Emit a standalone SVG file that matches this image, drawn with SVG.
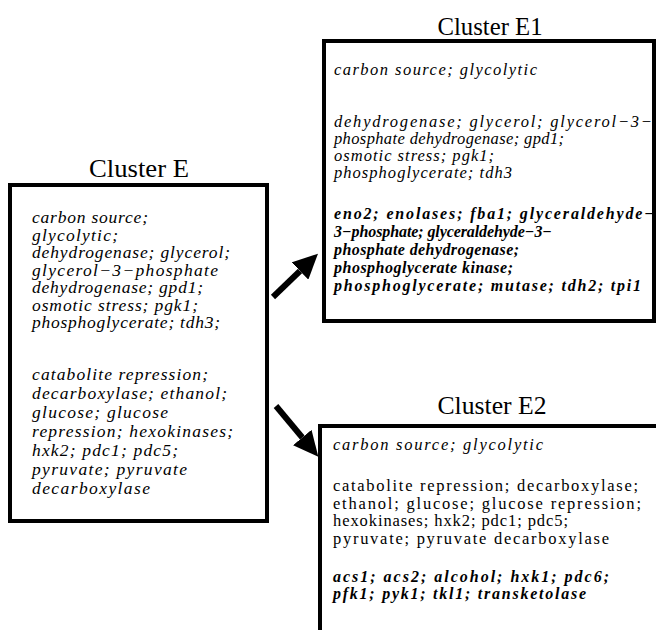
<svg xmlns="http://www.w3.org/2000/svg" width="656" height="630" viewBox="0 0 656 630">
<defs>
<style>
.box{fill:#fff;stroke:#000;stroke-width:4}
.title{font-family:"Liberation Serif","Times New Roman",serif;font-size:25px;fill:#000;text-anchor:middle}
.it{font-family:"Liberation Serif","Times New Roman",serif;font-size:16.5px;font-style:italic;fill:#000}
.itE{font-family:"Liberation Serif","Times New Roman",serif;font-size:17.5px;font-style:italic;fill:#000}
.rg{font-family:"Liberation Serif","Times New Roman",serif;font-size:16.5px;fill:#000}
.bi{font-family:"Liberation Serif","Times New Roman",serif;font-size:16px;font-style:italic;font-weight:bold;fill:#000}
.conn{stroke:#000;stroke-width:6;fill:none}
</style>
<marker id="ah" markerUnits="userSpaceOnUse" viewBox="0 0 25 24" markerWidth="25" markerHeight="24" refX="0" refY="12" orient="auto">
<path d="M0,0 L25,12 L0,24 z" fill="#000"/>
</marker>
</defs>
<rect width="656" height="630" fill="#fff"/>

<g id="clusterE">
<text class="title" x="139" y="177" textLength="100" lengthAdjust="spacingAndGlyphs">Cluster E</text>
<rect class="box" x="10" y="185" width="257" height="336"/>
<text class="itE" x="32" y="223" textLength="116" lengthAdjust="spacing">carbon source;</text>
<text class="itE" x="32" y="240.5" textLength="86" lengthAdjust="spacing">glycolytic;</text>
<text class="itE" x="32" y="258" textLength="198" lengthAdjust="spacing">dehydrogenase; glycerol;</text>
<text class="itE" x="32" y="275.5" textLength="186" lengthAdjust="spacing">glycerol−3−phosphate</text>
<text class="itE" x="32" y="293" textLength="171" lengthAdjust="spacing">dehydrogenase; gpd1;</text>
<text class="itE" x="32" y="310.5" textLength="166" lengthAdjust="spacing">osmotic stress; pgk1;</text>
<text class="itE" x="32" y="328" textLength="188" lengthAdjust="spacing">phosphoglycerate; tdh3;</text>
<text class="itE" x="32" y="380" textLength="176" lengthAdjust="spacing">catabolite repression;</text>
<text class="itE" x="32" y="399" textLength="195" lengthAdjust="spacing">decarboxylase; ethanol;</text>
<text class="itE" x="32" y="418" textLength="136" lengthAdjust="spacing">glucose; glucose</text>
<text class="itE" x="32" y="437" textLength="201" lengthAdjust="spacing">repression; hexokinases;</text>
<text class="itE" x="32" y="456" textLength="146" lengthAdjust="spacing">hxk2; pdc1; pdc5;</text>
<text class="itE" x="32" y="475" textLength="155" lengthAdjust="spacing">pyruvate; pyruvate</text>
<text class="itE" x="32" y="494" textLength="118" lengthAdjust="spacing">decarboxylase</text>
</g>

<g id="clusterE1">
<text class="title" x="490" y="35" textLength="105" lengthAdjust="spacingAndGlyphs">Cluster E1</text>
<rect class="box" x="324" y="41" width="330" height="280"/>
<text class="it" x="334" y="75" textLength="203" lengthAdjust="spacing">carbon source; glycolytic</text>
<text class="it" x="334" y="127" textLength="318" lengthAdjust="spacing">dehydrogenase; glycerol; glycerol−3−</text>
<text class="it" x="334" y="144" textLength="230" lengthAdjust="spacing">phosphate dehydrogenase; gpd1;</text>
<text class="it" x="334" y="161" textLength="160" lengthAdjust="spacing">osmotic stress; pgk1;</text>
<text class="it" x="334" y="178" textLength="178" lengthAdjust="spacing">phosphoglycerate; tdh3</text>
<text class="bi" x="334" y="219" textLength="320" lengthAdjust="spacing">eno2; enolases; fba1; glyceraldehyde−</text>
<text class="bi" x="334" y="237" textLength="218" lengthAdjust="spacing">3−phosphate; glyceraldehyde−3−</text>
<text class="bi" x="334" y="255" textLength="185" lengthAdjust="spacing">phosphate dehydrogenase;</text>
<text class="bi" x="334" y="273" textLength="179" lengthAdjust="spacing">phosphoglycerate kinase;</text>
<text class="bi" x="334" y="291" textLength="307" lengthAdjust="spacing">phosphoglycerate; mutase; tdh2; tpi1</text>
</g>

<g id="clusterE2">
<text class="title" x="492" y="414" textLength="109" lengthAdjust="spacingAndGlyphs">Cluster E2</text>
<rect class="box" x="320" y="426" width="400" height="300"/>
<text class="it" x="333" y="450" textLength="210" lengthAdjust="spacing">carbon source; glycolytic</text>
<text class="rg" x="333" y="491" textLength="305" lengthAdjust="spacing">catabolite repression; decarboxylase;</text>
<text class="rg" x="333" y="508.5" textLength="308" lengthAdjust="spacing">ethanol; glucose; glucose repression;</text>
<text class="rg" x="333" y="526" textLength="235" lengthAdjust="spacing">hexokinases; hxk2; pdc1; pdc5;</text>
<text class="rg" x="333" y="543.5" textLength="276" lengthAdjust="spacing">pyruvate; pyruvate decarboxylase</text>
<text class="bi" x="333" y="582" textLength="276" lengthAdjust="spacing">acs1; acs2; alcohol; hxk1; pdc6;</text>
<text class="bi" x="333" y="599" textLength="253" lengthAdjust="spacing">pfk1; pyk1; tkl1; transketolase</text>
</g>

<g id="connectors">
<line class="conn" x1="273" y1="297" x2="300" y2="271" marker-end="url(#ah)"/>
<line class="conn" x1="276" y1="406" x2="302.3" y2="437.5" marker-end="url(#ah)"/>
</g>
</svg>
